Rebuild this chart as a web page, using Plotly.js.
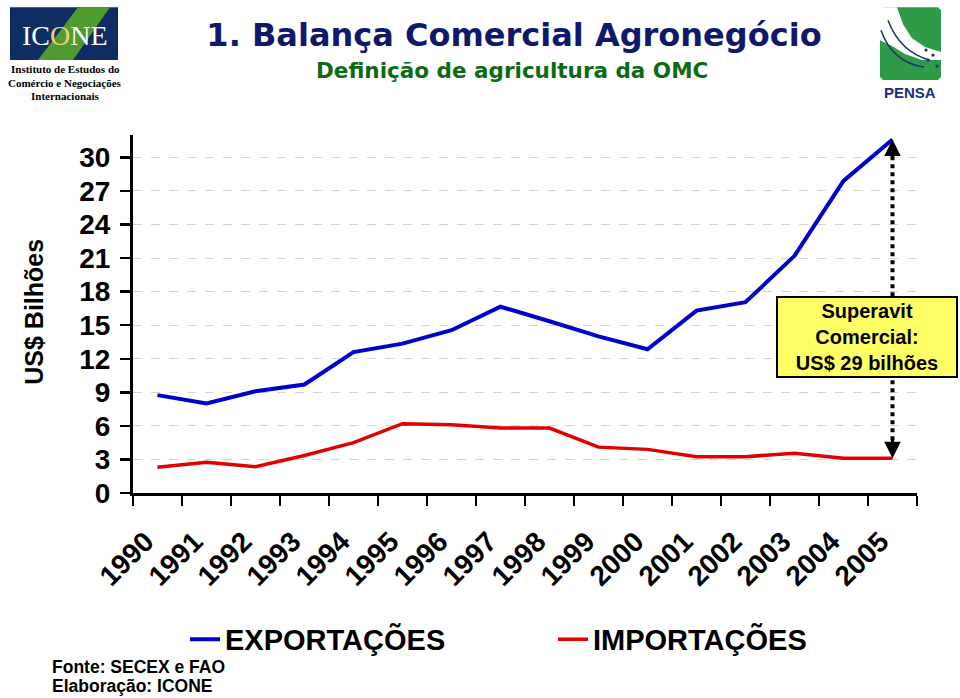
<!DOCTYPE html>
<html>
<head>
<meta charset="utf-8">
<script src="https://cdn.plot.ly/plotly-3.0.1.min.js"></script>
<style>
  html, body { margin: 0; padding: 0; background: #fff; }
  #chart { width: 960px; height: 698px; }
</style>
</head>
<body>
<div id="chart"></div>
<script>
// dados (US$ bilhões)
const anos = ["1990", "1991", "1992", "1993", "1994", "1995", "1996", "1997",
              "1998", "1999", "2000", "2001", "2002", "2003", "2004", "2005"];
const exportacoes = [8.75, 8.0, 9.1, 9.7, 12.6, 13.35, 14.55, 16.65,
                     15.35, 14.0, 12.85, 16.3, 17.05, 21.2, 27.9, 31.6];
const importacoes = [2.3, 2.75, 2.35, 3.35, 4.5, 6.2, 6.1, 5.8,
                     5.8, 4.1, 3.9, 3.25, 3.25, 3.55, 3.1, 3.1];
const yTicks = [0, 3, 6, 9, 12, 15, 18, 21, 24, 27, 30];

const ARIAL = "Liberation Sans, Arial, sans-serif";
const SERIF = "Liberation Serif, Times New Roman, serif";
const TAHOMA = "DejaVu Sans, sans-serif";

// área do gráfico em pixels (para posicionar os enfeites em coordenadas paper)
const L = 133, R = 917, T = 135, B = 493.5;
const px = (x) => (x - L) / (R - L);
const py = (y) => (B - y) / (B - T);
const pathOf = (pts) => "M" + pts.map((p) => px(p[0]) + "," + py(p[1])).join(" L") + " Z";

// texto livre centrado num ponto em pixels
const texto = (x, y, text, font, extra) => Object.assign({
    xref: "paper", yref: "paper", x: px(x), y: py(y),
    xanchor: "center", yanchor: "middle", showarrow: false,
    text: text, font: font,
}, extra || {});

const traces = [
    {
        x: anos, y: exportacoes, mode: "lines", name: "EXPORTAÇÕES",
        line: { color: "#0000CC", width: 4 }, hoverinfo: "none",
    },
    {
        x: anos, y: importacoes, mode: "lines", name: "IMPORTAÇÕES",
        line: { color: "#E00000", width: 3.5 }, hoverinfo: "none",
    },
];

// no eixo de categorias, a posição do último ano é o seu índice
const ultimo = anos.length - 1;

const shapes = [
    // seta pontilhada do superávit
    {
        type: "line", xref: "x", yref: "y",
        x0: ultimo, x1: ultimo,
        y0: importacoes[ultimo] + 0.9, y1: exportacoes[ultimo] - 0.9,
        line: { color: "black", width: 4, dash: "dot" },
    },
    // logo ICONE
    {
        type: "rect", xref: "paper", yref: "paper",
        x0: px(10), x1: px(118), y0: py(60), y1: py(7),
        fillcolor: "#0E2D63", line: { width: 0 },
    },
    {
        type: "path", xref: "paper", yref: "paper",
        path: pathOf([[78, 7], [110, 7], [73, 60], [38, 60]]),
        fillcolor: "#4E9B2E", line: { width: 0 },
    },
    // logo PENSA
    {
        type: "path", xref: "paper", yref: "paper",
        path: pathOf([[884, 7], [938, 7], [941, 10], [941, 77], [938, 80], [883, 80], [880, 77], [880, 10]]),
        fillcolor: "#2E9B48", line: { width: 0 },
    },
    {
        type: "path", xref: "paper", yref: "paper",
        path: pathOf([[880, 7], [897, 7], [903, 24], [912, 38], [925, 47], [941, 52],
                      [941, 60], [922, 60], [905, 54], [892, 46], [880, 40]]),
        fillcolor: "white", line: { width: 0 },
    },
    {
        type: "path", xref: "paper", yref: "paper",
        path: "M" + px(888) + "," + py(20) + " Q" + px(900) + "," + py(52) + " " + px(930) + "," + py(60),
        line: { color: "#1B2F7A", width: 1.5 },
    },
    {
        type: "path", xref: "paper", yref: "paper",
        path: "M" + px(881) + "," + py(30) + " Q" + px(892) + "," + py(62) + " " + px(924) + "," + py(67),
        line: { color: "#1B2F7A", width: 1.5 },
    },
];

// pontinhos do logo PENSA
[[926, 50], [933, 55], [928, 60], [937, 66]].forEach((p) => {
    shapes.push({
        type: "circle", xref: "paper", yref: "paper",
        x0: px(p[0] - 1.6), x1: px(p[0] + 1.6), y0: py(p[1] + 1.6), y1: py(p[1] - 1.6),
        fillcolor: "#1B2F7A", line: { width: 0 },
    });
});

const annotations = [
    texto(512, 70, "<b>Definição de agricultura da OMC</b>",
          { family: TAHOMA, size: 21.5, color: "#0B6B12" }),
    // título do eixo y
    texto(34, 312, "<b>US$ Bilhões</b>",
          { family: ARIAL, size: 25, color: "black" }, { textangle: -90 }),
    // caixa do superávit
    texto(867, 337, "<b>Superavit<br>Comercial:<br>US$ 29 bilhões</b>",
          { family: ARIAL, size: 20, color: "black" },
          { width: 176, height: 76, borderpad: 1, borderwidth: 2,
            bgcolor: "#FFFF66", bordercolor: "black" }),
    // pontas da seta
    {
        xref: "x", yref: "y", x: ultimo, y: exportacoes[ultimo],
        ax: 0, ay: 22, text: "", showarrow: true,
        arrowhead: 2, arrowsize: 1.1, arrowwidth: 3, arrowcolor: "black",
    },
    {
        xref: "x", yref: "y", x: ultimo, y: importacoes[ultimo],
        ax: 0, ay: -22, text: "", showarrow: true,
        arrowhead: 2, arrowsize: 1.1, arrowwidth: 3, arrowcolor: "black",
    },
    // fonte
    texto(50, 668, "<b>Fonte: SECEX e FAO</b>",
          { family: ARIAL, size: 17.5, color: "black" }, { xanchor: "left" }),
    texto(50, 687, "<b>Elaboração: ICONE</b>",
          { family: ARIAL, size: 17.5, color: "black" }, { xanchor: "left" }),
    // textos do logo ICONE
    texto(65, 35, 'IC<span style="color:#E3D27A">O</span>NE',
          { family: SERIF, size: 28, color: "white" }),
    texto(65, 69, "<b>Instituto de Estudos do</b>", { family: SERIF, size: 11, color: "black" }),
    texto(65, 83, "<b>Comércio e Negociações</b>", { family: SERIF, size: 11, color: "black" }),
    texto(65, 96, "<b>Internacionais</b>", { family: SERIF, size: 11, color: "black" }),
    // texto do logo PENSA
    texto(910, 92, "<b>PENSA</b>", { family: ARIAL, size: 15, color: "#1B2F7A" }),
];

const layout = {
    width: 960,
    height: 698,
    paper_bgcolor: "white",
    plot_bgcolor: "white",
    margin: { l: L, r: 960 - R, t: T, b: 698 - B },
    title: {
        text: "<b>1. Balança Comercial Agronegócio</b>",
        x: 514 / 960, xanchor: "center",
        y: 1 - 35 / 698, yanchor: "middle",
        font: { family: TAHOMA, size: 32, color: "#10186B" },
    },
    showlegend: true,
    legend: {
        orientation: "h",
        x: px(185), xanchor: "left",
        y: py(640), yanchor: "middle",
        entrywidth: 323, entrywidthmode: "pixels",
        font: { family: ARIAL, size: 29, color: "black", weight: "bold" },
        bgcolor: "rgba(0,0,0,0)",
    },
    xaxis: {
        type: "category",
        range: [-0.5, anos.length - 0.5],
        tickson: "boundaries",
        ticks: "outside", ticklen: 10, tickwidth: 2.5, tickcolor: "black",
        ticklabelstandoff: 18,
        ticklabelshift: -12,
        showline: true, linecolor: "black", linewidth: 3,
        showgrid: false, zeroline: false,
        tickangle: -45,
        tickfont: { family: ARIAL, size: 28, color: "black", weight: "bold" },
        fixedrange: true,
    },
    yaxis: {
        range: [0, 32],
        tickmode: "array", tickvals: yTicks, ticktext: yTicks.map(String),
        ticks: "outside", ticklen: 10, tickwidth: 2.5, tickcolor: "black",
        ticklabelstandoff: 4,
        showline: true, linecolor: "black", linewidth: 3,
        showgrid: true, gridcolor: "#D4D4D4", gridwidth: 1, griddash: "dash",
        zeroline: false,
        tickfont: { family: ARIAL, size: 28, color: "black", weight: "bold" },
        fixedrange: true,
    },
    shapes: shapes,
    annotations: annotations,
};

Plotly.newPlot("chart", traces, layout, { displayModeBar: false, staticPlot: true });
</script>
</body>
</html>
